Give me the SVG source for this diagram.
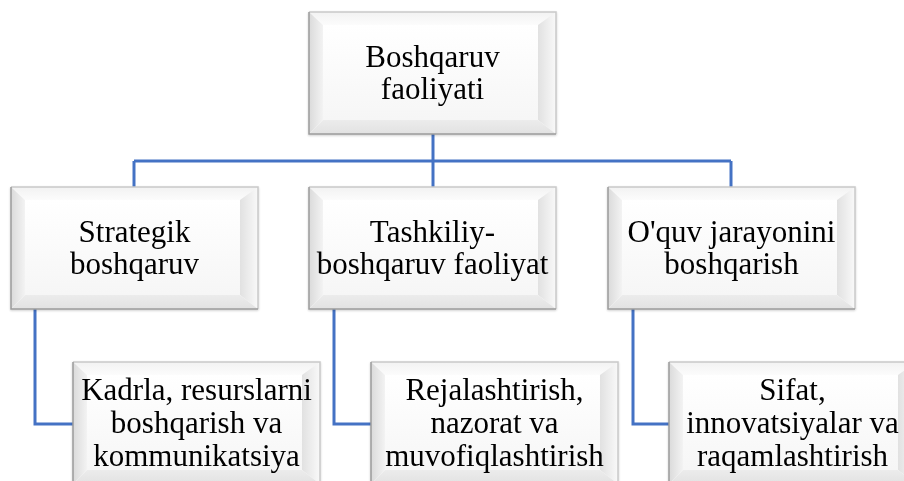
<svg xmlns="http://www.w3.org/2000/svg" width="904" height="481" viewBox="0 0 904 481">
<style>
text{font-family:"Liberation Serif","Times New Roman",serif;font-size:31px;fill:#000;text-anchor:middle}
.conn{fill:none;stroke:#4472C4;stroke-width:3}
.bt{fill:url(#gt)}.bl{fill:url(#gl)}.br{fill:url(#gr)}.bb{fill:url(#gb)}
.e1{fill:none;stroke:#9c9c9c;stroke-width:1.5}
.e2{fill:none;stroke:#c9c9c9;stroke-width:1.5}
</style>
<defs>
<linearGradient id="face" x1="0" y1="0" x2="0" y2="1">
<stop offset="0" stop-color="#ffffff"/><stop offset="1" stop-color="#f6f6f6"/>
</linearGradient>
<linearGradient id="gt" x1="0" y1="0" x2="0" y2="1">
<stop offset="0" stop-color="#f2f2f2"/><stop offset="1" stop-color="#fcfcfc"/>
</linearGradient>
<linearGradient id="gl" x1="0" y1="0" x2="1" y2="0">
<stop offset="0" stop-color="#dadada"/><stop offset="1" stop-color="#f3f3f3"/>
</linearGradient>
<linearGradient id="gr" x1="0" y1="0" x2="1" y2="0">
<stop offset="0" stop-color="#e1e1e1"/><stop offset="1" stop-color="#f9f9f9"/>
</linearGradient>
<linearGradient id="gb" x1="0" y1="0" x2="0" y2="1">
<stop offset="0" stop-color="#ececec"/><stop offset="1" stop-color="#e2e2e2"/>
</linearGradient>
<filter id="sh" x="-5%" y="-5%" width="110%" height="115%">
<feGaussianBlur in="SourceAlpha" stdDeviation="1.2"/>
<feOffset dx="0" dy="1" result="b"/>
<feComponentTransfer><feFuncA type="linear" slope="0.2"/></feComponentTransfer>
<feMerge><feMergeNode/><feMergeNode in="SourceGraphic"/></feMerge>
</filter>
<g id="bevel">
<rect x="0" y="0" width="247" height="122" fill="#fff"/>
<polygon class="bt" points="0,0 247,0 233,13 14,13"/>
<polygon class="bl" points="0,0 14,13 14,108 0,122"/>
<polygon class="br" points="247,0 247,122 229,108 229,13"/>
<polygon class="bb" points="0,122 14,108 229,108 247,122"/>
<rect x="14" y="13" width="215" height="95" fill="url(#face)"/>
<path class="e2" d="M0,0 H247 V122"/>
<path class="e1" d="M0,0 V122 H247"/>
</g>
</defs>
<rect width="904" height="481" fill="#fff"/>
<g id="connectors">
<path class="conn" d="M433,134 V187"/>
<path class="conn" d="M134,161 H731"/>
<path class="conn" d="M134,161 V187"/>
<path class="conn" d="M731,161 V187"/>
<path class="conn" d="M35,309 V424 H73"/>
<path class="conn" d="M334,309 V424 H371"/>
<path class="conn" d="M633,309 V424 H669"/>
</g>
<g id="n0" filter="url(#sh)">
<use href="#bevel" x="309" y="12"/>
<text x="432.5" y="67">Boshqaruv</text>
<text x="432.5" y="99">faoliyati</text>
</g>
<g id="n1" filter="url(#sh)">
<use href="#bevel" x="11" y="187"/>
<text x="134.5" y="242">Strategik</text>
<text x="134.5" y="274">boshqaruv</text>
</g>
<g id="n2" filter="url(#sh)">
<use href="#bevel" x="309" y="187"/>
<text x="432.5" y="242">Tashkiliy-</text>
<text x="432.5" y="274">boshqaruv faoliyat</text>
</g>
<g id="n3" filter="url(#sh)">
<use href="#bevel" x="608" y="187"/>
<text x="731.5" y="242">O'quv jarayonini</text>
<text x="731.5" y="274">boshqarish</text>
</g>
<g id="n4" filter="url(#sh)">
<use href="#bevel" x="73" y="362"/>
<text x="196.5" y="400">Kadrla, resurslarni</text>
<text x="196.5" y="433">boshqarish va</text>
<text x="196.5" y="466">kommunikatsiya</text>
</g>
<g id="n5" filter="url(#sh)">
<use href="#bevel" x="371" y="362"/>
<text x="494.5" y="400">Rejalashtirish,</text>
<text x="494.5" y="433">nazorat va</text>
<text x="494.5" y="466">muvofiqlashtirish</text>
</g>
<g id="n6" filter="url(#sh)">
<use href="#bevel" x="669" y="362"/>
<text x="792.5" y="400">Sifat,</text>
<text x="792.5" y="433">innovatsiyalar va</text>
<text x="792.5" y="466">raqamlashtirish</text>
</g>
</svg>
